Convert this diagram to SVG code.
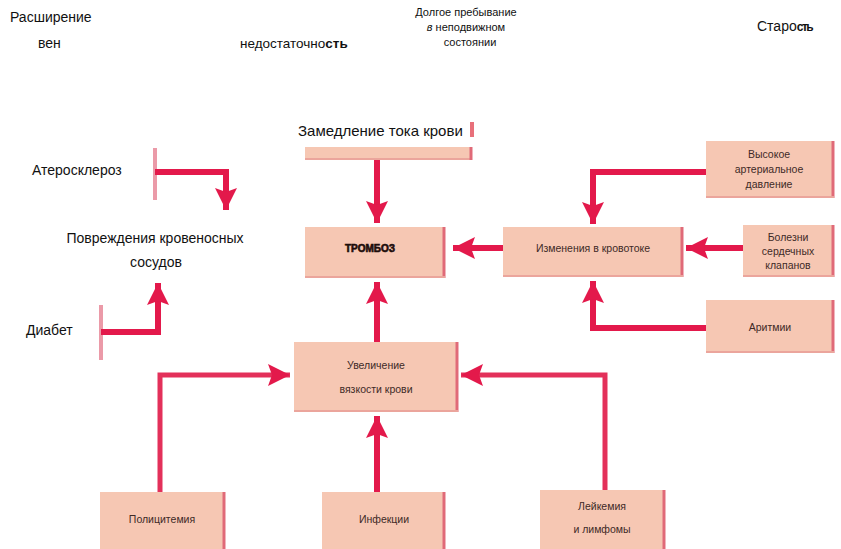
<svg xmlns="http://www.w3.org/2000/svg" width="841" height="549" viewBox="0 0 841 549">
<style>
.lbl{font-family:"Liberation Sans",Arial,sans-serif;fill:#111}
.bt{font-family:"Liberation Sans Narrow","Liberation Sans",Arial,sans-serif;font-size:10.5px;fill:#3e2a27;text-anchor:middle}
.box{fill:#f6c7b3}
.edge{stroke:#e06a78;stroke-width:3;fill:none}
.bed{stroke:#eba59c;stroke-width:2;fill:none}
.ar{stroke:#e3194b;stroke-width:6;fill:none;marker-end:url(#ah)}
.ar2{stroke:#e3305a;stroke-width:5;fill:none;marker-end:url(#ah)}
.faint{stroke:#eb9aa8;stroke-width:4;fill:none}
</style>
<defs>
<marker id="ah" markerUnits="userSpaceOnUse" markerWidth="24" markerHeight="24" viewBox="0 0 24 24" refX="22" refY="12" orient="auto">
<path d="M0,1 L22,12 L0,23 L4,12 Z" fill="#e3194b"/>
</marker>
</defs>
<rect width="841" height="549" fill="#fff"/>

<g id="top-labels">
<text class="lbl" x="10" y="22" font-size="14">Расширение</text>
<text class="lbl" x="38" y="48" font-size="14">вен</text>
<text class="lbl" x="240" y="48" font-size="13.5">недостаточно<tspan font-weight="bold">сть</tspan></text>
<text class="lbl" x="466" y="16" font-size="11" text-anchor="middle">Долгое  пребывание</text>
<text class="lbl" x="466" y="31" font-size="11" text-anchor="middle"><tspan font-style="italic">в</tspan>  неподвижном</text>
<text class="lbl" x="470" y="46" font-size="11" text-anchor="middle">состоянии</text>
<text class="lbl" x="757" y="31" font-size="14">Старо<tspan font-weight="bold" letter-spacing="-1.5" font-size="12">сть</tspan></text>
</g>

<g id="left-labels">
<text class="lbl" x="32" y="175" font-size="14">Атеросклероз</text>
<text class="lbl" x="155" y="243" font-size="14" text-anchor="middle">Повреждения  кровеносных</text>
<text class="lbl" x="156" y="267" font-size="14" text-anchor="middle">сосудов</text>
<text class="lbl" x="26" y="335" font-size="14">Диабет</text>
<text class="lbl" x="298" y="136" font-size="15">Замедление тока крови</text>
</g>

<g id="slowdown-box">
<rect class="box" x="305" y="147" width="167" height="12"/>
<path class="bed" d="M305,159 H472"/>
<path class="edge" d="M471,147 V160"/>
<path d="M472,122 V137" stroke="#e8707a" stroke-width="4"/>
</g>

<g id="thrombosis">
<rect class="box" x="305" y="227" width="140" height="51"/>
<path class="edge" d="M444,227 V278"/>
<path class="bed" d="M305,277 H445"/>
<text x="370" y="252" font-family="'Liberation Sans',Arial,sans-serif" font-size="10" font-weight="bold" fill="#1e0d0b" stroke="#1e0d0b" stroke-width="0.6" text-anchor="middle">ТРОМБОЗ</text>
</g>

<g id="flow-change">
<rect class="box" x="503" y="227" width="180" height="50"/>
<path class="edge" d="M682,227 V277"/>
<path class="bed" d="M503,276 H683"/>
<text class="bt" x="593" y="252">Изменения в кровотоке</text>
</g>

<g id="high-pressure">
<rect class="box" x="706" y="141" width="128" height="57"/>
<path class="edge" d="M833,141 V198"/>
<path class="bed" d="M706,197 H834"/>
<text class="bt" x="769" y="158">Высокое</text>
<text class="bt" x="769" y="173">артериальное</text>
<text class="bt" x="769" y="188">давление</text>
</g>

<g id="valve-disease">
<rect class="box" x="743" y="225" width="91" height="52"/>
<path class="edge" d="M833,225 V277"/>
<path class="bed" d="M743,276 H834"/>
<text class="bt" x="788" y="241">Болезни</text>
<text class="bt" x="788" y="255">сердечных</text>
<text class="bt" x="788" y="269">клапанов</text>
</g>

<g id="arrhythmia">
<rect class="box" x="706" y="300" width="128" height="53"/>
<path class="edge" d="M833,300 V353"/>
<path class="bed" d="M706,352 H834"/>
<text class="bt" x="770" y="331">Аритмии</text>
</g>

<g id="viscosity">
<rect class="box" x="294" y="342" width="164" height="70"/>
<path class="edge" d="M457,342 V412"/>
<path class="bed" d="M294,411 H458"/>
<text class="bt" x="376" y="369">Увеличение</text>
<text class="bt" x="376" y="393">вязкости крови</text>
</g>

<g id="polycythemia">
<rect class="box" x="100" y="492" width="125" height="57"/>
<path class="edge" d="M224,492 V549"/>
<text class="bt" x="162" y="523">Полицитемия</text>
</g>

<g id="infections">
<rect class="box" x="322" y="492" width="123" height="57"/>
<path class="edge" d="M444,492 V549"/>
<text class="bt" x="384" y="523">Инфекции</text>
</g>

<g id="leukemia">
<rect class="box" x="540" y="490" width="125" height="59"/>
<path class="edge" d="M664,490 V549"/>
<text class="bt" x="602" y="510">Лейкемия</text>
<text class="bt" x="602" y="533">и лимфомы</text>
</g>

<g id="connectors">
<path class="faint" d="M155,148 V200"/>
<path class="ar" d="M155,172 H226 V210"/>
<path class="faint" d="M101,305 V360"/>
<path class="ar" d="M101,332 H158 V283"/>
<path class="ar" d="M377,160 V223"/>
<path class="ar" d="M503,248 H453"/>
<path class="ar" d="M706,172 H593 V224"/>
<path class="ar" d="M743,248 H686"/>
<path class="ar" d="M706,328 H593 V281"/>
<path class="ar" d="M377,342 V282"/>
<path class="ar2" d="M160,492 V375 H290"/>
<path class="ar" d="M377,492 V416"/>
<path class="ar2" d="M605,490 V375 H461"/>
</g>
</svg>
